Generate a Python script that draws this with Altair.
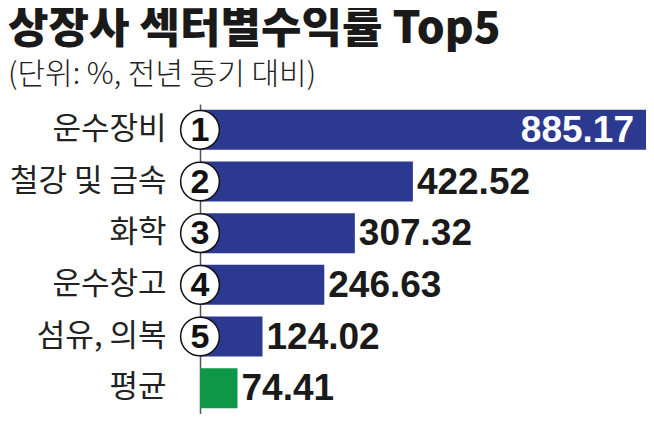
import altair as alt
import pandas as pd

categories = ["운수장비", "철강 및 금속", "화학", "운수창고", "섬유, 의복", "평균"]
values = [885.17, 422.52, 307.32, 246.63, 124.02, 74.41]
ranks = ["1", "2", "3", "4", "5", ""]
kinds = ["top", "top", "top", "top", "top", "avg"]
labels = ["885.17", "422.52", "307.32", "246.63", "124.02", "74.41"]

df = pd.DataFrame({"cat": categories, "val": values, "rank": ranks, "kind": kinds,
                   "label": labels, "zero": [0] * len(categories)})

NAVY = "#2b3990"
GREEN = "#0f9747"
NUM_FONT = "Liberation Sans"
KR_FONT = "Noto Sans CJK KR"

y = alt.Y("cat:N", sort=categories, title=None,
          scale=alt.Scale(paddingInner=0.225, paddingOuter=0.1125),
          axis=alt.Axis(labelFont=KR_FONT, labelFontSize=31, labelColor="#222",
                        labelFontWeight=400, labelPadding=34, ticks=False,
                        domain=True, domainColor="#555", domainWidth=1.5,
                        minExtent=192, maxExtent=192, labelLimit=300))
xscale = alt.Scale(domain=[0, 885.17], nice=False)
x = alt.X("val:Q", scale=xscale, axis=None, title=None)
x0 = alt.X("zero:Q", scale=xscale, axis=None, title=None)

base = alt.Chart(df)

bars = base.mark_bar().encode(
    x=x, y=y,
    color=alt.Color("kind:N", scale=alt.Scale(domain=["top", "avg"], range=[NAVY, GREEN]), legend=None),
)

circles = base.transform_filter("datum.rank != ''").mark_point(
    shape="circle", filled=False, fill="white", fillOpacity=1, stroke="#111",
    strokeWidth=1.5, size=1500, opacity=1
).encode(x=x0, y=y)

digits = base.transform_filter("datum.rank != ''").mark_text(
    font=NUM_FONT, fontSize=34, fontWeight="bold", color="#111", align="center", baseline="middle", dy=1
).encode(x=x0, y=y, text="rank:N")

inside = base.transform_filter("datum.val > 800").mark_text(
    font=NUM_FONT, fontSize=37, fontWeight="bold", color="white", align="right", baseline="middle", dx=-12, dy=1
).encode(x=x, y=y, text="label:N")

outside = base.transform_filter("datum.val < 800").mark_text(
    font=NUM_FONT, fontSize=37, fontWeight="bold", color="#1a1a1a", align="left", baseline="middle", dx=4, dy=1
).encode(x=x, y=y, text="label:N")

chart = alt.layer(bars, circles, digits, inside, outside).properties(
    width=446, height=310,
    padding=0,
    title=alt.TitleParams(
        text="상장사 섹터별수익률 Top5",
        subtitle="(단위: %, 전년 동기 대비)",
        anchor="start", frame="bounds",
        font=KR_FONT, fontSize=44, fontWeight=900, color="#1a1a1a",
        subtitleFont=KR_FONT, subtitleFontSize=30, subtitleFontWeight=300, subtitleColor="#222",
        subtitlePadding=8, offset=14,
    ),
).configure_view(stroke=None)

chart.save("out.html", embed_options={"renderer": "svg", "actions": False})
